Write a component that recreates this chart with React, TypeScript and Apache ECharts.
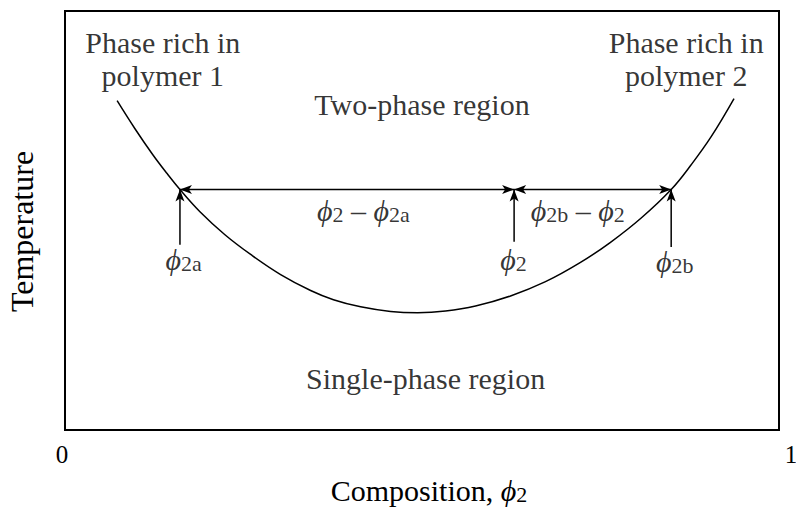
import React, { useEffect, useRef } from 'react';
import * as echarts from 'echarts';

// Binodal (phase boundary) curve: composition phi2 vs temperature (arbitrary units)
const boundaryX = [0.073, 0.098, 0.123, 0.143, 0.161, 0.189, 0.224, 0.260, 0.302, 0.344, 0.376, 0.414, 0.456, 0.494, 0.533, 0.575, 0.624, 0.673, 0.722, 0.764, 0.807, 0.849, 0.877, 0.905, 0.937];
const boundaryT = [78.6, 71.9, 65.7, 61.2, 57.4, 52.1, 46.6, 41.9, 37.1, 33.3, 31.1, 29.4, 28.3, 28.0, 28.4, 29.6, 32.0, 35.4, 40.0, 44.8, 50.6, 57.4, 63.3, 70.0, 79.1];

// Tie line and pointer arrows
const phi2a = 0.161;
const phi2 = 0.629;
const phi2b = 0.849;
const tieT = 57.4;
const arrowX = [phi2a, phi2, phi2b];
const arrowBaseT = [44.2, 44.9, 43.7];

// Tick labels
const xTickLabels = ['0', '1'];

// Text annotations
const regionTexts = ['Phase rich in\npolymer 1', 'Phase rich in\npolymer 2', 'Two-phase region', 'Single-phase region'];
const regionX = [0.137, 0.870, 0.500, 0.505];
const regionT = [88.5, 88.5, 77.8, 12.2];

const phiTexts = [
  '{p|ϕ}{s|2a}',
  '{p|ϕ}{s|2}',
  '{p|ϕ}{s|2b}',
  '{p|ϕ}{s|2}{m| – }{p|ϕ}{s|2a}',
  '{p|ϕ}{s|2b}{m| – }{p|ϕ}{s|2}',
];
const phiX = [0.166, 0.628, 0.854, 0.418, 0.718];
const phiT = [42.0, 41.8, 41.5, 53.5, 53.5];

const FONT = "'Liberation Serif', 'Times New Roman', serif";

const rich = {
  n: { fontFamily: FONT, fontSize: 30, lineHeight: 40, verticalAlign: 'bottom', color: '#000' },
  m: { fontFamily: FONT, fontSize: 30, lineHeight: 40, verticalAlign: 'bottom', color: '#000' },
  p: { fontFamily: FONT, fontSize: 30, fontStyle: 'italic', lineHeight: 40, verticalAlign: 'bottom', color: '#000' },
  s: { fontFamily: FONT, fontSize: 22, lineHeight: 20, verticalAlign: 'bottom', color: '#000' },
};

function arrowHead(tip: number[], from: number[]) {
  const dx = tip[0] - from[0];
  const dy = tip[1] - from[1];
  const len = Math.sqrt(dx * dx + dy * dy) || 1;
  const ux = dx / len;
  const uy = dy / len;
  const L = 12;
  const W = 4.5;
  const bx = tip[0] - ux * L;
  const by = tip[1] - uy * L;
  return {
    type: 'polygon',
    shape: {
      points: [
        [tip[0], tip[1]],
        [bx - uy * W, by + ux * W],
        [tip[0] - ux * (L - 3), tip[1] - uy * (L - 3)],
        [bx + uy * W, by - ux * W],
      ],
    },
    style: { fill: '#000', stroke: 'none' },
  };
}

export default function App() {
  const ref = useRef<HTMLDivElement>(null);
  useEffect(() => {
    if (!ref.current) return;
    const chart = echarts.init(ref.current, undefined, { renderer: 'svg' });
    const labelData: any[] = [];
    regionTexts.forEach((t, i) => {
      labelData.push({
        value: [regionX[i], regionT[i]],
        label: {
          formatter: t,
          fontFamily: FONT,
          fontSize: 30,
          lineHeight: 33,
          color: '#000',
          align: 'center',
        },
      });
    });
    phiTexts.forEach((t, i) => {
      labelData.push({
        value: [phiX[i], phiT[i]],
        label: { formatter: t, rich, color: '#000', align: 'center' },
      });
    });

    const arrowData: number[][] = [
      [phi2a, tieT, phi2, tieT, 1, 1],
      [phi2, tieT, phi2b, tieT, 1, 1],
      ...arrowX.map((x, i) => [x, arrowBaseT[i], x, tieT, 0, 1]),
    ];

    chart.setOption({
      animation: false,
      grid: {
        left: 65,
        right: 17,
        top: 11,
        bottom: 82,
        outerBoundsMode: 'none',
        containLabel: false,
        show: true,
        borderColor: '#000',
        borderWidth: 2,
        backgroundColor: 'transparent',
      },
      xAxis: {
        type: 'value',
        min: 0,
        max: 1,
        interval: 1,
        axisLine: { show: false },
        axisTick: { show: false },
        splitLine: { show: false },
        axisLabel: {
          fontFamily: FONT,
          fontSize: 25,
          color: '#000',
          margin: 12,
          formatter: (v: number) => (Math.round(v) === 0 ? '{l|' + xTickLabels[0] + '}' : '{r|' + xTickLabels[1] + '}'),
          rich: {
            l: { fontFamily: FONT, fontSize: 25, color: '#000', padding: [0, 6, 0, 0] },
            r: { fontFamily: FONT, fontSize: 25, color: '#000', padding: [0, 0, 0, 24] },
          },
        },
        name: '{n|Composition, }{p|ϕ}{s|2}',
        nameLocation: 'middle',
        nameGap: 35,
        nameTextStyle: { rich, padding: [0, 0, 0, 14] },
      },
      yAxis: {
        type: 'value',
        min: 0,
        max: 100,
        axisLine: { show: false },
        axisTick: { show: false },
        splitLine: { show: false },
        axisLabel: { show: false },
        name: 'Temperature',
        nameLocation: 'middle',
        nameGap: 27,
        nameTextStyle: { fontFamily: FONT, fontSize: 32, color: '#000', padding: [0, 22, 0, 0] },
      },
      series: [
        {
          type: 'line',
          name: 'boundary',
          data: boundaryX.map((x, i) => [x, boundaryT[i]]),
          smooth: 0.4,
          symbol: 'none',
          lineStyle: { color: '#000', width: 1.5 },
          silent: true,
        },
        {
          type: 'custom',
          name: 'arrows',
          silent: true,
          encode: { x: [0, 2], y: [1, 3] },
          data: arrowData,
          renderItem: (params: any, api: any) => {
            const p1 = api.coord([api.value(0), api.value(1)]);
            const p2 = api.coord([api.value(2), api.value(3)]);
            const children: any[] = [
              {
                type: 'line',
                shape: { x1: p1[0], y1: p1[1], x2: p2[0], y2: p2[1] },
                style: { stroke: '#000', lineWidth: 1.5 },
              },
            ];
            if (api.value(4)) children.push(arrowHead(p1, p2));
            if (api.value(5)) children.push(arrowHead(p2, p1));
            return { type: 'group', children };
          },
        },
        {
          type: 'scatter',
          name: 'labels',
          symbolSize: 0,
          silent: true,
          data: labelData,
          label: { show: true, position: 'inside', color: '#000', textBorderWidth: 0 },
        },
      ],
    });
    return () => chart.dispose();
  }, []);
  return (
    <div
      ref={ref}
      style={{ position: 'absolute', left: 0, top: 0, width: 796, height: 512 }}
    />
  );
}
